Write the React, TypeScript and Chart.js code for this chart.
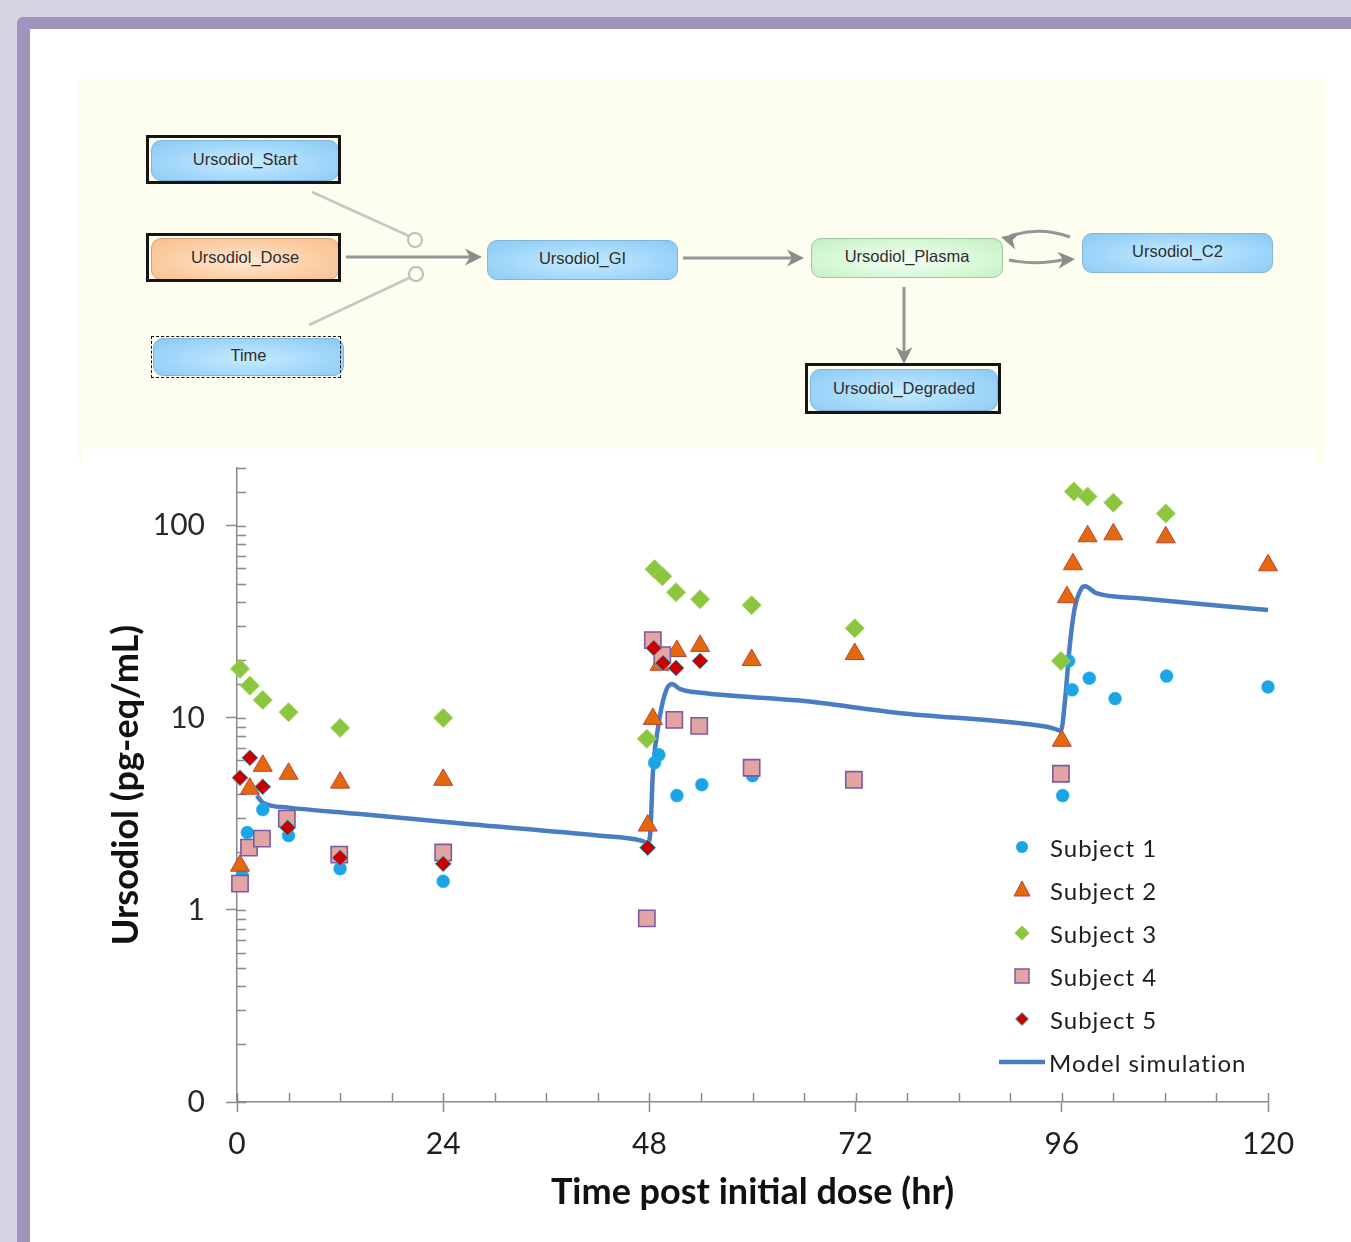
import React, { useEffect, useRef } from 'react';
import { Chart, registerables } from 'chart.js';

Chart.register(...registerables);

// ---------- data (hours, pg-eq/mL) ----------
const subject1Time = [0.6, 1.2, 3, 6, 12, 24, 48.6, 49.1, 51.2, 54.1, 60, 96.1, 96.8, 97.2, 99.2, 102.2, 108.2, 120];
const subject1Conc = [1.51, 2.53, 3.33, 2.44, 1.64, 1.41, 5.84, 6.42, 3.94, 4.49, 5.0, 3.94, 19.8, 14.0, 16.1, 12.6, 16.5, 14.5];

const subject2Time = [0.35, 1.5, 3, 6, 12, 24, 47.8, 48.4, 49.2, 51.2, 53.9, 59.9, 71.9, 96, 96.6, 97.3, 99, 102, 108.1, 120];
const subject2Conc = [1.7, 4.28, 5.63, 5.12, 4.6, 4.76, 2.75, 9.88, 18.9, 22.3, 23.7, 20.0, 21.5, 7.6, 42.5, 63.1, 88.2, 90.3, 87.1, 62.3];

const subject3Time = [0.35, 1.5, 3, 6, 12, 24, 47.7, 48.6, 49.5, 51.1, 53.9, 59.9, 71.9, 95.9, 97.4, 99, 102, 108.1];
const subject3Conc = [18.0, 14.7, 12.4, 10.7, 8.87, 10.0, 7.78, 59.4, 54.6, 45.1, 41.5, 38.6, 29.3, 19.8, 151, 142, 132, 116];

const subject4Time = [0.35, 1.4, 2.9, 5.8, 11.9, 24, 47.7, 48.4, 49.5, 50.9, 53.8, 59.9, 71.8, 95.9];
const subject4Conc = [1.37, 2.11, 2.35, 2.99, 1.94, 1.99, 0.904, 25.4, 21.2, 9.77, 9.09, 5.5, 4.76, 5.12];

const subject5Time = [0.35, 1.5, 3, 5.9, 12, 24, 47.8, 48.5, 49.6, 51.1, 53.9];
const subject5Conc = [4.88, 6.2, 4.38, 2.68, 1.87, 1.74, 2.11, 23.1, 19.3, 18.2, 19.8];

const modelTime = [2.3, 3, 6, 14, 26.5, 42, 47, 47.8, 48.1, 48.4, 49, 49.8, 50.6, 51.6, 54, 65.5, 77, 93.5, 95.2, 95.9, 96.4, 96.9, 97.5, 98.3, 98.7, 100, 105, 120];
const modelConc = [3.94, 3.62, 3.41, 3.17, 2.81, 2.44, 2.3, 2.24, 2.5, 5.12, 8.87, 13.3, 15.0, 14.1, 13.5, 12.3, 10.6, 9.09, 8.77, 8.56, 12.7, 23.1, 37.3, 47.3, 48.5, 44.6, 42.0, 36.4];

const xMajorTicks = [0, 24, 48, 72, 96, 120];
const yMajorTicks = [0.1, 1, 10, 100];
const yTickLabels = ['0', '1', '10', '100'];
const seriesNames = ['Subject 1', 'Subject 2', 'Subject 3', 'Subject 4', 'Subject 5', 'Model simulation'];

const pts = (t: number[], v: number[]) => t.map((x, i) => ({ x, y: v[i] }));

const isYMajor = (v: number) => yMajorTicks.some((m) => Math.abs(m - v) / m < 1e-6);
const isXMajor = (v: number) => xMajorTicks.includes(v);

const AXIS = '#8a8a8a';

const innerTicks = {
  id: 'innerTicks',
  beforeDatasetsDraw(chart: any) {
    const { ctx, chartArea, scales } = chart;
    ctx.save();
    ctx.strokeStyle = AXIS;
    ctx.lineWidth = 1.5;
    scales.y.ticks.forEach((t: any) => {
      const y = Math.round(scales.y.getPixelForValue(t.value)) + 0.5;
      ctx.beginPath();
      ctx.moveTo(chartArea.left, y);
      ctx.lineTo(chartArea.left + 9, y);
      ctx.stroke();
    });
    scales.x.ticks.forEach((t: any) => {
      const x = Math.round(scales.x.getPixelForValue(t.value)) + 0.5;
      ctx.beginPath();
      ctx.moveTo(x, chartArea.bottom);
      ctx.lineTo(x, chartArea.bottom - 9);
      ctx.stroke();
    });
    ctx.restore();
  },
};

function ChartPanel() {
  const ref = useRef<HTMLCanvasElement | null>(null);
  useEffect(() => {
    if (!ref.current) return;
    const chart = new Chart(ref.current, {
      type: 'scatter',
      data: {
        datasets: [
          {
            label: seriesNames[0], data: pts(subject1Time, subject1Conc), pointStyle: 'circle', pointRadius: 6.5,
            backgroundColor: '#1aa6e6', borderColor: '#39b3ea', borderWidth: 0.5, clip: false, order: 4,
          },
          {
            label: seriesNames[1], data: pts(subject2Time, subject2Conc), pointStyle: 'triangle', pointRadius: 11,
            backgroundColor: '#e4690c', borderColor: '#b8443a', borderWidth: 1, clip: false, order: 3,
          },
          {
            label: seriesNames[2], data: pts(subject3Time, subject3Conc), pointStyle: 'rectRot', pointRadius: 9.5,
            backgroundColor: '#8cc63f', borderColor: '#9fd35e', borderWidth: 1, clip: false, order: 2,
          },
          {
            label: seriesNames[3], data: pts(subject4Time, subject4Conc), pointStyle: 'rect', pointRadius: 11.5,
            backgroundColor: '#e3a4a4', borderColor: '#7e5aa0', borderWidth: 1.6, clip: false, order: 1,
          },
          {
            label: seriesNames[4], data: pts(subject5Time, subject5Conc), pointStyle: 'rectRot', pointRadius: 8,
            backgroundColor: '#c80000', borderColor: '#4bb0c8', borderWidth: 1, clip: false, order: 0,
          },
          {
            label: seriesNames[5], data: pts(modelTime, modelConc), showLine: true, pointRadius: 0,
            borderColor: '#4a7cc2', borderWidth: 4.5, cubicInterpolationMode: 'monotone', clip: false, order: 10,
          } as any,
        ],
      },
      options: {
        animation: false,
        responsive: false,
        maintainAspectRatio: false,
        layout: { padding: { top: 0, right: 47, left: 0, bottom: 0 } },
        plugins: { legend: { display: false }, tooltip: { enabled: false } },
        scales: {
          x: {
            type: 'linear',
            min: 0,
            max: 120,
            afterFit: (s: any) => { s.height = 140; },
            border: { color: AXIS, width: 1.5 },
            grid: {
              drawOnChartArea: false,
              tickLength: 10,
              tickWidth: 1.5,
              tickColor: (c: any) => (c.tick && isXMajor(c.tick.value) ? AXIS : 'rgba(0,0,0,0)'),
            },
            ticks: {
              stepSize: 6,
              autoSkip: false,
              maxRotation: 0,
              padding: 14,
              color: '#1e1e1e',
              font: { family: 'Lato', size: 30 },
              callback: (v: any) => (isXMajor(Number(v)) ? String(v) : ''),
            },
            title: {
              display: true,
              text: 'Time post initial dose (hr)',
              color: '#111',
              font: { family: 'Lato', size: 36, weight: 'bold' },
              padding: { top: 0, bottom: 28 },
            },
          },
          y: {
            type: 'logarithmic',
            min: 0.1,
            max: 200,
            afterFit: (s: any) => { s.width = 152; },
            border: { color: AXIS, width: 1.5 },
            grid: {
              drawOnChartArea: false,
              tickLength: 11,
              tickWidth: 1.5,
              tickColor: (c: any) => (c.tick && isYMajor(c.tick.value) ? AXIS : 'rgba(0,0,0,0)'),
            },
            ticks: {
              autoSkip: false,
              padding: 21,
              color: '#2a2a2a',
              font: { family: 'Lato', size: 30 },
              callback: (v: any) => {
                const n = Number(v);
                const i = yMajorTicks.findIndex((m) => Math.abs(m - n) / m < 1e-6);
                return i >= 0 ? yTickLabels[i] : '';
              },
            },
            title: {
              display: true,
              text: 'Ursodiol (pg-eq/mL)',
              color: '#111',
              font: { family: 'Lato', size: 36, weight: 'bold' },
              padding: { top: 20, bottom: 0 },
            },
          },
        },
      } as any,
      plugins: [innerTicks],
    });
    return () => chart.destroy();
  }, []);
  return <canvas ref={ref} width={1230} height={813} style={{ width: 1230, height: 813, display: 'block' }} />;
}

// ---------- diagram ----------
const BLUE = 'radial-gradient(ellipse at 50% 55%, #c6ebff 0%, #a4d8fb 55%, #8ac9f4 100%)';
const ORANGE = 'radial-gradient(ellipse at 50% 55%, #ffe9d4 0%, #fccfa6 55%, #f7bf8e 100%)';
const GREEN = 'radial-gradient(ellipse at 50% 55%, #f4fff4 0%, #d9f8d9 55%, #c2efc2 100%)';

function Node(p: { x: number; y: number; w: number; h: number; bg: string; border: string; text: string }) {
  return (
    <div
      style={{
        position: 'absolute', left: p.x, top: p.y, width: p.w, height: p.h, boxSizing: 'border-box',
        background: p.bg, border: `1px solid ${p.border}`, borderRadius: 10,
        display: 'flex', alignItems: 'center', justifyContent: 'center', paddingBottom: 3,
        fontFamily: '"Liberation Sans", Arial, sans-serif', fontSize: 16.5, color: '#2e2e2e',
      }}
    >
      {p.text}
    </div>
  );
}

function Frame(p: { x: number; y: number; w: number; h: number; dashed?: boolean }) {
  return (
    <div
      style={{
        position: 'absolute', left: p.x, top: p.y, width: p.w, height: p.h, boxSizing: 'border-box',
        border: p.dashed ? '1.5px dashed #111' : '3px solid #151515', pointerEvents: 'none',
      }}
    />
  );
}

function Chev(p: { x: number; y: number; a: number }) {
  return (
    <polygon points="0,0 -17,-8.5 -12,0 -17,8.5" fill="#8c8c8c" transform={`translate(${p.x},${p.y}) rotate(${p.a})`} />
  );
}

function Diagram() {
  return (
    <>
      <svg width={1351} height={470} style={{ position: 'absolute', left: 0, top: 0 }}>
        <line x1={346} y1={257} x2={472} y2={257} stroke="#969696" strokeWidth={3} />
        <Chev x={482} y={257} a={0} />
        <line x1={312} y1={192} x2={409} y2={236} stroke="#c6c6c6" strokeWidth={2.5} />
        <circle cx={415} cy={240} r={7} fill="#fffff2" stroke="#bdbdbd" strokeWidth={2} />
        <line x1={309} y1={325} x2={409} y2={278} stroke="#c6c6c6" strokeWidth={2.5} />
        <circle cx={416} cy={274} r={7} fill="#fffff2" stroke="#bdbdbd" strokeWidth={2} />
        <line x1={683} y1={258} x2={794} y2={258} stroke="#969696" strokeWidth={3} />
        <Chev x={804} y={258} a={0} />
        <path d="M1009 260 Q1038 266 1066 259" fill="none" stroke="#969696" strokeWidth={3} />
        <Chev x={1075} y={259} a={-4} />
        <path d="M1070 237 Q1040 226 1010 236" fill="none" stroke="#969696" strokeWidth={3} />
        <Chev x={1001} y={237} a={195} />
        <line x1={904} y1={287} x2={904} y2={354} stroke="#969696" strokeWidth={3} />
        <Chev x={904} y={364} a={90} />
      </svg>
      <Node x={151} y={140} w={188} h={41} bg={BLUE} border="#86b4d4" text="Ursodiol_Start" />
      <Frame x={146} y={135} w={195} h={49} />
      <Node x={151} y={238} w={188} h={42} bg={ORANGE} border="#d2a47e" text="Ursodiol_Dose" />
      <Frame x={146} y={233} w={195} h={49} />
      <Node x={153} y={338} w={191} h={38} bg={BLUE} border="#86b4d4" text="Time" />
      <Frame x={151} y={336} w={190} h={42} dashed />
      <Node x={487} y={240} w={191} h={40} bg={BLUE} border="#86b4d4" text="Ursodiol_GI" />
      <Node x={811} y={238} w={192} h={40} bg={GREEN} border="#9cc89c" text="Ursodiol_Plasma" />
      <Node x={1082} y={233} w={191} h={40} bg={BLUE} border="#86b4d4" text="Ursodiol_C2" />
      <Node x={810} y={369} w={188} h={42} bg={BLUE} border="#86b4d4" text="Ursodiol_Degraded" />
      <Frame x={805} y={363} w={196} h={51} />
    </>
  );
}

// ---------- legend ----------
function LegendMarker({ i }: { i: number }) {
  const s = 50;
  if (i === 5) return <svg width={s} height={20}><line x1={2} y1={10} x2={48} y2={10} stroke="#4a7cc2" strokeWidth={4.5} /></svg>;
  const c = 25, m = 10;
  let shape: any = null;
  if (i === 0) shape = <circle cx={c} cy={m} r={6} fill="#1aa6e6" />;
  if (i === 1) shape = <polygon points={`${c},${m - 9} ${c + 8},${m + 6} ${c - 8},${m + 6}`} fill="#e4690c" stroke="#b8443a" strokeWidth={1} />;
  if (i === 2) shape = <polygon points={`${c},${m - 7.5} ${c + 7.5},${m} ${c},${m + 7.5} ${c - 7.5},${m}`} fill="#8cc63f" />;
  if (i === 3) shape = <rect x={c - 7} y={m - 7} width={14} height={14} fill="#e3a4a4" stroke="#7e5aa0" strokeWidth={1.5} />;
  if (i === 4) shape = <polygon points={`${c},${m - 6.5} ${c + 6.5},${m} ${c},${m + 6.5} ${c - 6.5},${m}`} fill="#c80000" stroke="#4bb0c8" strokeWidth={1} />;
  return <svg width={s} height={20}>{shape}</svg>;
}

function Legend() {
  const rows = [847, 890, 933, 976, 1019, 1062];
  return (
    <>
      {seriesNames.map((n, i) => (
        <div key={n} style={{ position: 'absolute', left: 997, top: rows[i] - 16, height: 32, display: 'flex', alignItems: 'center' }}>
          <LegendMarker i={i} />
          <span style={{ marginLeft: i === 5 ? 2 : 3, fontFamily: 'Lato, sans-serif', fontSize: 24, letterSpacing: 1, color: '#1e1e1e', whiteSpace: 'nowrap' }}>{n}</span>
        </div>
      ))}
    </>
  );
}

export default function App() {
  return (
    <div style={{ position: 'absolute', left: 0, top: 0, width: 1351, height: 1242, overflow: 'hidden', background: '#d8d3e4' }}>
      <div style={{ position: 'absolute', left: 17, top: 17, right: 0, bottom: 0, background: '#a093bd', borderTopLeftRadius: 6 }} />
      <div style={{ position: 'absolute', left: 30, top: 29, right: 0, bottom: 0, background: '#ffffff' }} />
      <div style={{ position: 'absolute', left: 78, top: 79, width: 1247, height: 383, background: '#fefef0' }} />
      <Diagram />
      <div style={{ position: 'absolute', left: 85, top: 449, width: 1230, height: 793, background: '#ffffff' }} />
      <div style={{ position: 'absolute', left: 85, top: 429, width: 1230, height: 813 }}>
        <ChartPanel />
      </div>
      <Legend />
    </div>
  );
}
